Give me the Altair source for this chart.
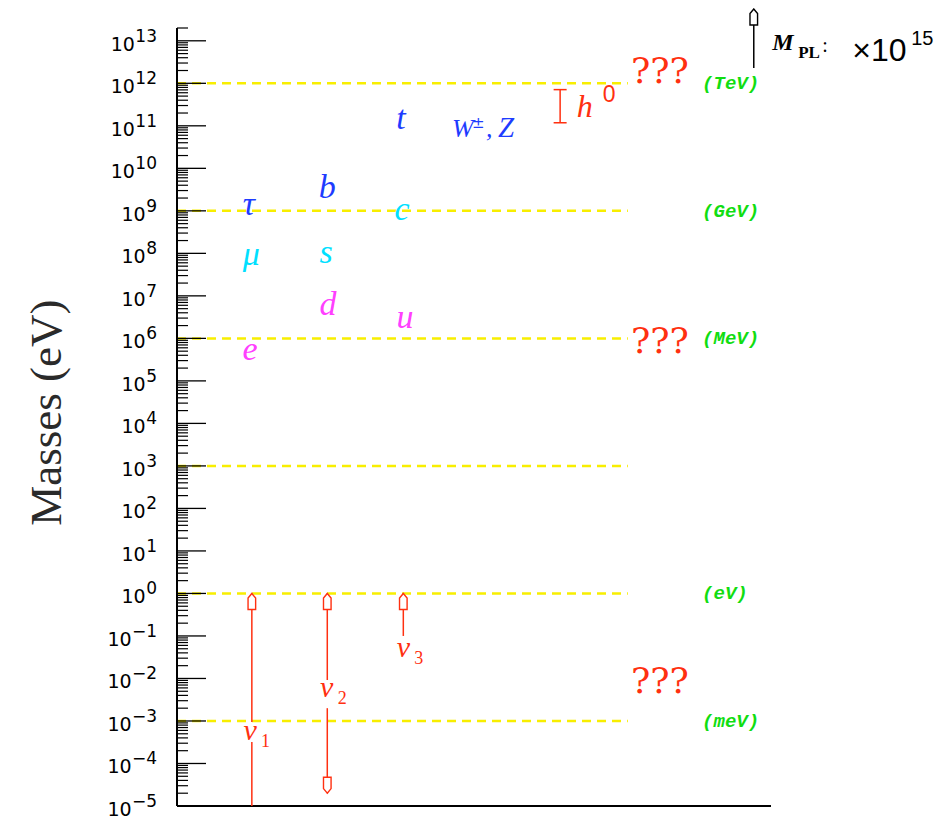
import altair as alt
import pandas as pd

# ---------------- data ----------------
DECADES = list(range(-5, 14))            # major tick exponents (10^-5 ... 10^13)
MINOR_MULT = [2, 3, 4, 5, 6, 7, 8, 9]
Y_MIN, Y_MAX = 1e-5, 2e13

LEVELS = [1e12, 1e9, 1e6, 1e3, 1e0, 1e-3]           # yellow dashed lines
DASH_END = 75.9
UNIT_LEVELS = [1e12, 1e9, 1e6, 1e0, 1e-3]
UNIT_TEXT = ["(TeV)", "(GeV)", "(MeV)", "(eV)", "(meV)"]
UNIT_X = 88.4

Y_TITLE = "Masses (eV)"
Y_TITLE_POS = 1.8e4

PARTICLES = ["τ", "μ", "e", "b", "s", "d", "t", "c", "u"]
PART_X = [12.1, 12.5, 12.3, 25.3, 25.1, 25.4, 37.7, 37.9, 38.4]
PART_MASS = [8.1e8, 5.4e7, 3.1e5, 2.0e9, 6.0e7, 3.6e6, 8.5e10, 6.1e8, 1.77e6]
BLUE, CYAN, MAGENTA, RED, GREEN = "#1e3cff", "#00e0ff", "#ff40ff", "#ff3010", "#11dd11"
PART_COLOR = [BLUE, CYAN, MAGENTA, BLUE, CYAN, MAGENTA, BLUE, CYAN, MAGENTA]

W_X, W_MASS = 46.3, 5.5e10

H_X, H_LO, H_HI = 64.5, 1.18e11, 7.1e11
H_LABEL_X, H_LABEL_Y = 67.3, 1.6e11

Q_X = 81.3
Q_Y = [1.0e12, 4.6e5, 4.6e-3]

NU_LINE_X = [12.6, 25.3, 38.1]
NU_LABEL_X = [12.3, 25.2, 38.1]
NU_LABEL_Y = [3.6e-4, 3.7e-3, 0.032]
NU_SUB = ["1", "2", "3"]
NU_SEG_X = [12.6, 12.6, 25.3, 25.3, 38.1]
NU_SEG_LO = [9.5e-4, 1e-5, 9.2e-3, 2.0e-5, 0.1]
NU_SEG_HI = [1.0, 3.2e-4, 1.0, 2.0e-3, 1.0]
NU_UP_Y = [1.0, 1.0, 1.0]
NU_DOWN_X, NU_DOWN_Y = [25.3], [2.0e-5]

MPL_X, MPL_LO, MPL_HI = 97.1, 2.3e12, 5.6e13
MPL_LABEL_X, MPL_LABEL_Y = 100.2, 6.2e12

# ---------------- scales / helpers ----------------
xs = alt.Scale(domain=[0, 100], nice=False, zero=False)
ys = alt.Scale(type="log", domain=[Y_MIN, Y_MAX], nice=False)


def X(f):
    return alt.X(f, type="quantitative", scale=xs, axis=None)


def Y(f):
    return alt.Y(f, type="quantitative", scale=ys, axis=None)


UP = "M0,0L0.45,0.55L0.45,1.9L-0.45,1.9L-0.45,0.55Z"
DOWN = "M0,0L0.45,-0.55L0.45,-1.9L-0.45,-1.9L-0.45,-0.55Z"

# ---------------- layers ----------------
spine_df = pd.DataFrame({"x0": [0.0], "x1": [100.0], "lo": [Y_MIN], "hi": [Y_MAX]})
spine_left = alt.Chart(spine_df).mark_rule(color="black", strokeWidth=2).encode(
    x=X("x0:Q"), y=Y("lo:Q"), y2="hi:Q")
spine_bottom = alt.Chart(spine_df).mark_rule(color="black", strokeWidth=2).encode(
    x=X("x0:Q"), x2="x1:Q", y=Y("lo:Q"))

tdf = pd.DataFrame({"y": [Y_TITLE_POS], "t": [Y_TITLE]})
y_title = alt.Chart(tdf).mark_text(font="Liberation Serif", fontSize=45, angle=270,
                                   align="center", baseline="middle", color="#2a2a2a").encode(
    x=alt.value(-130), y=Y("y:Q"), text="t:N")

lv = pd.DataFrame({"y": LEVELS, "x0": 0.0, "x1": DASH_END})
dashes = alt.Chart(lv).mark_rule(color="#f8ee00", strokeWidth=2.5, strokeDash=[9, 6]).encode(
    x=X("x0:Q"), x2="x1:Q", y=Y("y:Q"))

maj = pd.DataFrame({"v": [10.0 ** n for n in DECADES], "n": DECADES,
                    "e": [str(n) if n >= 0 else "−" + str(-n) for n in DECADES]})
ticks_major = alt.Chart(maj).mark_rule(color="black", strokeWidth=1.3).encode(
    y=Y("v:Q"), x=alt.value(0), x2=alt.value(29))

mnr = pd.DataFrame({"v": [m * 10.0 ** n for n in DECADES[:-1] for m in MINOR_MULT] + [Y_MAX]})
ticks_minor = alt.Chart(mnr).mark_rule(color="black", strokeWidth=1.2).encode(
    y=Y("v:Q"), x=alt.value(0), x2=alt.value(11))

lab_base = alt.Chart(maj).transform_calculate(
    px="-20.5 - (datum.n < 0 ? 14 : 0) - length(toString(abs(datum.n))) * 10.8"
).mark_text(align="right", baseline="alphabetic", dy=10, font="DejaVu Sans",
            fontSize=19, color="black").encode(
    y=Y("v:Q"), x=alt.X("px:Q", scale=None, axis=None), text=alt.value("10"))
lab_exp = alt.Chart(maj).mark_text(align="right", baseline="alphabetic", dy=1,
                                   font="DejaVu Sans", fontSize=17, color="black").encode(
    y=Y("v:Q"), x=alt.value(-20), text="e:N")

pdf = pd.DataFrame({"x": PART_X, "y": PART_MASS, "t": PARTICLES, "c": PART_COLOR})
parts = alt.Chart(pdf).mark_text(font="Liberation Serif", fontStyle="italic", fontSize=34,
                                 align="center", baseline="alphabetic").encode(
    x=X("x:Q"), y=Y("y:Q"), text="t:N", color=alt.Color("c:N", scale=None, legend=None))

wdf = pd.DataFrame({"x": [W_X], "y": [W_MASS]})
w_base = alt.Chart(wdf).encode(x=X("x:Q"), y=Y("y:Q"))
w1 = w_base.mark_text(font="Liberation Serif", fontStyle="italic", fontSize=26, align="left",
                      baseline="alphabetic", color=BLUE).encode(text=alt.value("W"))
w2 = w_base.mark_text(font="DejaVu Sans", fontSize=15, align="left", baseline="alphabetic",
                      dx=20, dy=-9, color=BLUE).encode(text=alt.value("±"))
w3 = w_base.mark_text(font="Liberation Serif", fontStyle="italic", fontSize=26, align="left",
                      baseline="alphabetic", dx=34, color=BLUE).encode(text=alt.value(","))
w4 = w_base.mark_text(font="Liberation Serif", fontStyle="italic", fontSize=29, align="left",
                      baseline="alphabetic", dx=46, color=BLUE).encode(text=alt.value("Z"))

hdf = pd.DataFrame({"x": [H_X], "lo": [H_LO], "hi": [H_HI]})
h_bar = alt.Chart(hdf).mark_rule(color=RED, strokeWidth=1.5).encode(
    x=X("x:Q"), y=Y("lo:Q"), y2="hi:Q")
hcap = pd.DataFrame({"x": [H_X, H_X], "y": [H_LO, H_HI]})
h_caps = alt.Chart(hcap).mark_point(shape="M-1,0L1,0", size=169, filled=False, stroke=RED,
                                    strokeWidth=1.5, opacity=1).encode(x=X("x:Q"), y=Y("y:Q"))
hl = pd.DataFrame({"x": [H_LABEL_X], "y": [H_LABEL_Y]})
h_t = alt.Chart(hl).mark_text(font="Liberation Serif", fontStyle="italic", fontSize=32,
                              align="left", baseline="alphabetic", color=RED).encode(
    x=X("x:Q"), y=Y("y:Q"), text=alt.value("h"))
h_0 = alt.Chart(hl).mark_text(font="Liberation Sans", fontSize=23, align="left",
                              baseline="alphabetic", dx=26, dy=-15, color=RED).encode(
    x=X("x:Q"), y=Y("y:Q"), text=alt.value("0"))

qdf = pd.DataFrame({"x": [Q_X] * len(Q_Y), "y": Q_Y})
qs = alt.Chart(qdf).mark_text(font="DejaVu Serif", fontSize=36, align="center",
                              baseline="alphabetic", color=RED).encode(
    x=X("x:Q"), y=Y("y:Q"), text=alt.value("???"))

udf = pd.DataFrame({"x": [UNIT_X] * len(UNIT_LEVELS), "y": UNIT_LEVELS, "t": UNIT_TEXT})
units = alt.Chart(udf).mark_text(font="Liberation Mono", fontStyle="italic", fontWeight="bold",
                                 fontSize=19, align="left", baseline="middle",
                                 color=GREEN).encode(x=X("x:Q"), y=Y("y:Q"), text="t:N")

sdf = pd.DataFrame({"x": NU_SEG_X, "lo": NU_SEG_LO, "hi": NU_SEG_HI})
nu_lines = alt.Chart(sdf).mark_rule(color=RED, strokeWidth=1.5).encode(
    x=X("x:Q"), y=Y("lo:Q"), y2="hi:Q")
updf = pd.DataFrame({"x": NU_LINE_X, "y": NU_UP_Y})
nu_up = alt.Chart(updf).mark_point(shape=UP, size=284, filled=True, fill="white", stroke=RED,
                                   strokeWidth=1.4, opacity=1).encode(x=X("x:Q"), y=Y("y:Q"))
dndf = pd.DataFrame({"x": NU_DOWN_X, "y": NU_DOWN_Y})
nu_dn = alt.Chart(dndf).mark_point(shape=DOWN, size=284, filled=True, fill="white", stroke=RED,
                                   strokeWidth=1.4, opacity=1).encode(x=X("x:Q"), y=Y("y:Q"))
ndf = pd.DataFrame({"x": NU_LABEL_X, "y": NU_LABEL_Y, "s": NU_SUB})
nu_t = alt.Chart(ndf).mark_text(font="Liberation Serif", fontStyle="italic", fontSize=30,
                                align="center", baseline="alphabetic", color=RED).encode(
    x=X("x:Q"), y=Y("y:Q"), text=alt.value("ν"))
nu_s = alt.Chart(ndf).mark_text(font="Liberation Serif", fontSize=18, align="left",
                                baseline="alphabetic", dx=11, dy=7, color=RED).encode(
    x=X("x:Q"), y=Y("y:Q"), text="s:N")

mdf = pd.DataFrame({"x": [MPL_X], "lo": [MPL_LO], "hi": [MPL_HI]})
m_line = alt.Chart(mdf).mark_rule(color="black", strokeWidth=1.5).encode(
    x=X("x:Q"), y=Y("lo:Q"), y2="hi:Q")
m_head = alt.Chart(mdf).mark_point(shape=UP, size=284, filled=True, fill="white",
                                   stroke="black", strokeWidth=1.4, opacity=1).encode(
    x=X("x:Q"), y=Y("hi:Q"))
mldf = pd.DataFrame({"x": [MPL_LABEL_X], "y": [MPL_LABEL_Y]})
mb = alt.Chart(mldf).encode(x=X("x:Q"), y=Y("y:Q"))
m1 = mb.mark_text(font="Liberation Serif", fontStyle="italic", fontWeight="bold", fontSize=24,
                  align="left", baseline="alphabetic", color="black").encode(text=alt.value("M"))
m2 = mb.mark_text(font="Liberation Serif", fontWeight="bold", fontSize=17, align="left",
                  baseline="alphabetic", dx=26, dy=8, color="black").encode(text=alt.value("PL"))
m3 = mb.mark_text(font="Liberation Serif", fontSize=20, align="left", baseline="alphabetic",
                  dx=50, dy=2, color="black").encode(text=alt.value(":"))
m4 = mb.mark_text(font="Liberation Sans", fontSize=32, align="left", baseline="alphabetic",
                  dx=80, dy=11, color="black").encode(text=alt.value("×10"))
m5 = mb.mark_text(font="Liberation Sans", fontSize=20, align="left", baseline="alphabetic",
                  dx=139, dy=-5, color="black").encode(text=alt.value("15"))

chart = alt.layer(
    dashes, ticks_minor, ticks_major, spine_left, spine_bottom, lab_base, lab_exp, y_title,
    parts, w1, w2, w3, w4,
    h_bar, h_caps, h_t, h_0, qs, units,
    nu_lines, nu_up, nu_dn, nu_t, nu_s,
    m_line, m_head, m1, m2, m3, m4, m5,
).properties(
    width=594, height=778,
    autosize=alt.AutoSizeParams(type="none"),
    padding={"left": 169, "top": 20, "right": 172, "bottom": 20},
).configure(background="white").configure_view(strokeWidth=0)

chart.save("out.html", embed_options={"renderer": "svg", "actions": False})
